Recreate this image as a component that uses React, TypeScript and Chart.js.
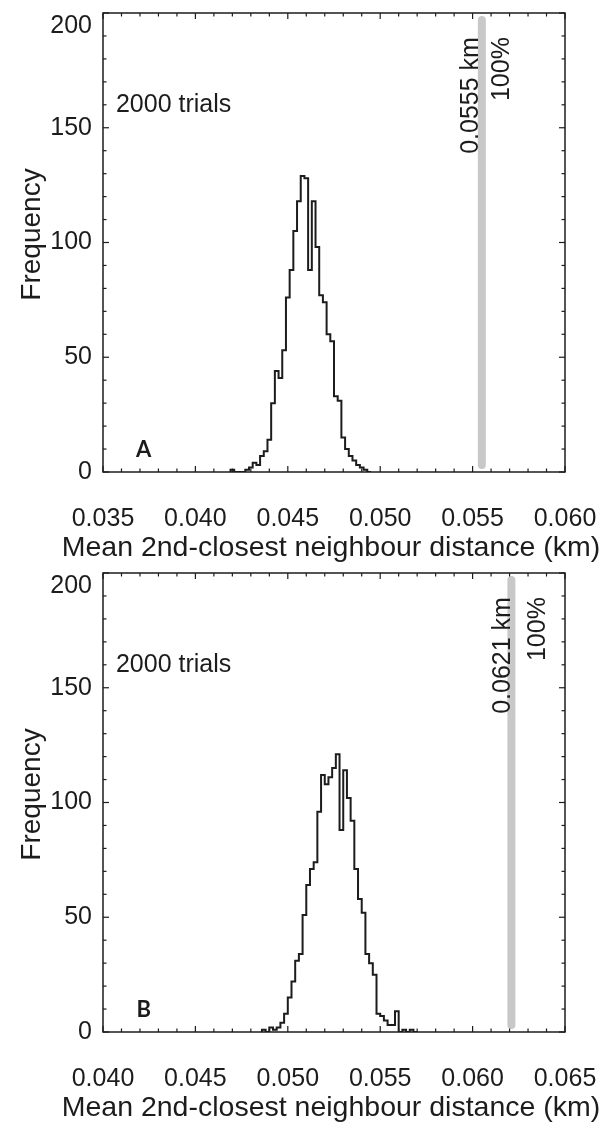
import React, { useEffect, useRef } from 'react';
import { Chart, registerables } from 'chart.js';

Chart.register(...registerables);

// ---------------- data ----------------
const BIN_WIDTH = 0.0002;
const yTicks = [0, 50, 100, 150, 200];
const trialsLabel = '2000 trials';
const percentLabel = '100%';
const xTitle = 'Mean 2nd-closest neighbour distance (km)';
const yTitle = 'Frequency';

// Panel A
const binStartsA = [
  0.0419, 0.0421, 0.0423, 0.0425, 0.0427, 0.0429, 0.0431, 0.0433, 0.0435, 0.0437,
  0.0439, 0.0441, 0.0443, 0.0445, 0.0447, 0.0449, 0.0451, 0.0453, 0.0455, 0.0457,
  0.0459, 0.0461, 0.0463, 0.0465, 0.0467, 0.0469, 0.0471, 0.0473, 0.0475, 0.0477,
  0.0479, 0.0481, 0.0483, 0.0485, 0.0487, 0.0489, 0.0491, 0.0493,
];
const countsA = [
  0, 1, 0, 0, 0, 1, 2, 4, 3, 7,
  9, 14, 30, 44, 41, 53, 76, 88, 105, 118,
  129, 128, 88, 118, 98, 77, 74, 60, 57, 33,
  31, 15, 10, 7, 5, 3, 2, 1,
];
const xTicksA = [0.035, 0.04, 0.045, 0.05, 0.055, 0.06];
const markerA = 0.0555;
const markerLabelA = '0.0555 km';
const letterA = 'A';

// Panel B
const binStartsB = [
  0.0486, 0.0488, 0.049, 0.0492, 0.0494, 0.0496, 0.0498, 0.05, 0.0502, 0.0504,
  0.0506, 0.0508, 0.051, 0.0512, 0.0514, 0.0516, 0.0518, 0.052, 0.0522, 0.0524,
  0.0526, 0.0528, 0.053, 0.0532, 0.0534, 0.0536, 0.0538, 0.054, 0.0542, 0.0544,
  0.0546, 0.0548, 0.055, 0.0552, 0.0554, 0.0556, 0.0558, 0.056, 0.0562, 0.0564,
  0.0566, 0.0568,
];
const countsB = [
  0, 1, 0, 2, 1, 2, 4, 8, 15, 22,
  31, 34, 51, 64, 71, 74, 96, 112, 108, 111,
  115, 121, 88, 114, 102, 92, 71, 58, 52, 34,
  30, 25, 8, 7, 5, 3, 3, 9, 0, 1,
  0, 1,
];
const xTicksB = [0.04, 0.045, 0.05, 0.055, 0.06, 0.065];
const markerB = 0.0621;
const markerLabelB = '0.0621 km';
const letterB = 'B';

const markerSpan = [3, 197];

// ---------------- styles ----------------
const INK = '#1c1c1c';
const GREY = '#c8c8c8';
const FONT = '"Liberation Sans", Arial, Helvetica, sans-serif';
const W = 603;
const H = 566;

type PanelCfg = {
  starts: number[];
  counts: number[];
  xTicks: number[];
  marker: number;
  markerLabel: string;
  letter: string;
  kmDx: number;
  pctDx: number;
};

const framePlugin = {
  id: 'frame',
  afterDraw(chart: any, _args: any, opts: any) {
    const { ctx, chartArea: a, scales } = chart;
    const x = scales.x;
    const y = scales.y;
    const cfg: PanelCfg = opts.cfg;
    ctx.save();
    ctx.strokeStyle = INK;
    ctx.lineWidth = 1.5;
    ctx.strokeRect(a.left, a.top, a.right - a.left, a.bottom - a.top);
    const line = (x1: number, y1: number, x2: number, y2: number) => {
      ctx.beginPath();
      ctx.moveTo(x1, y1);
      ctx.lineTo(x2, y2);
      ctx.stroke();
    };
    ctx.lineWidth = 1.2;
    const xMin = cfg.xTicks[0];
    for (let i = 0; i <= 25; i++) {
      const px = x.getPixelForValue(xMin + i * 0.001);
      const len = i % 5 === 0 ? 6 : 3.5;
      line(px, a.bottom, px, a.bottom - len);
      line(px, a.top, px, a.top + len);
    }
    for (let i = 0; i <= 20; i++) {
      const py = y.getPixelForValue(i * 10);
      const len = i % 5 === 0 ? 6 : 3.5;
      line(a.left, py, a.left + len, py);
      line(a.right, py, a.right - len, py);
    }

    ctx.fillStyle = INK;
    ctx.textBaseline = 'middle';

    // top y tick label, kept inside the frame height
    const topVal = yTicks[yTicks.length - 1];
    ctx.font = `25px ${FONT}`;
    ctx.textAlign = 'right';
    ctx.fillText(String(topVal), a.left - 11, y.getPixelForValue(topVal) + 13);

    // axis titles
    ctx.font = `28.5px ${FONT}`;
    ctx.textAlign = 'center';
    ctx.fillText(xTitle, (a.left + a.right) / 2 - 3, a.bottom + 76);
    ctx.save();
    ctx.translate(32, (a.top + a.bottom) / 2 - 8);
    ctx.rotate(-Math.PI / 2);
    ctx.font = `28px ${FONT}`;
    ctx.fillText(yTitle, 0, 0);
    ctx.restore();

    // trials text
    ctx.font = `25px ${FONT}`;
    ctx.textAlign = 'left';
    ctx.fillText(trialsLabel, x.getPixelForValue(xMin + 0.0007), y.getPixelForValue(160));

    // panel letter
    ctx.font = `bold 22px Lato, "Open Sans", sans-serif`;
    ctx.textAlign = 'center';
    ctx.fillText(cfg.letter, x.getPixelForValue(xMin + 0.0022), y.getPixelForValue(9.5));

    // rotated marker labels
    const mx = x.getPixelForValue(cfg.marker);
    const topY = y.getPixelForValue(189.5);
    ctx.font = `25px ${FONT}`;
    const rot = (text: string, px: number) => {
      ctx.save();
      ctx.translate(px, topY);
      ctx.rotate(-Math.PI / 2);
      ctx.textAlign = 'right';
      ctx.textBaseline = 'middle';
      ctx.fillText(text, 0, 0);
      ctx.restore();
    };
    rot(cfg.markerLabel, mx + cfg.kmDx);
    rot(percentLabel, mx + cfg.pctDx);
    ctx.restore();
  },
};

function Panel({ cfg, top }: { cfg: PanelCfg; top: number }) {
  const ref = useRef<HTMLCanvasElement>(null);
  useEffect(() => {
    const last = cfg.starts[cfg.starts.length - 1];
    const hist = [
      { x: cfg.starts[0], y: 0 },
      ...cfg.starts.map((s, i) => ({ x: s, y: cfg.counts[i] })),
      { x: last + BIN_WIDTH, y: 0 },
    ];
    const xMin = cfg.xTicks[0];
    const xMax = cfg.xTicks[cfg.xTicks.length - 1];
    const topVal = yTicks[yTicks.length - 1];
    const chart = new Chart(ref.current as HTMLCanvasElement, {
      type: 'line',
      data: {
        datasets: [
          {
            data: hist,
            stepped: 'after',
            borderColor: INK,
            borderWidth: 2,
            pointRadius: 0,
            fill: false,
            order: 1,
          } as any,
          {
            data: [
              { x: cfg.marker, y: markerSpan[0] },
              { x: cfg.marker, y: markerSpan[1] },
            ],
            borderColor: GREY,
            borderWidth: 8,
            borderCapStyle: 'round',
            pointRadius: 0,
            fill: false,
            order: 2,
          } as any,
        ],
      },
      options: {
        responsive: false,
        animation: false,
        devicePixelRatio: 1,
        layout: { padding: { top: 13, right: 38, left: 0, bottom: 0 } },
        plugins: {
          legend: { display: false },
          tooltip: { enabled: false },
          frame: { cfg },
        } as any,
        scales: {
          x: {
            type: 'linear',
            min: xMin,
            max: xMax,
            grid: { display: false, drawTicks: false },
            border: { display: false },
            ticks: {
              font: { family: FONT, size: 25 },
              color: INK,
              padding: 32,
              maxRotation: 0,
              autoSkip: false,
              callback: (v: any) => Number(v).toFixed(3),
            },
            afterBuildTicks: (s: any) => {
              s.ticks = cfg.xTicks.map((v) => ({ value: v }));
            },
            afterFit: (s: any) => {
              s.height = 94;
              s.paddingLeft = 0;
              s.paddingRight = 0;
            },
            title: { display: false },
          },
          y: {
            type: 'linear',
            min: 0,
            max: 200,
            grid: { display: false, drawTicks: false },
            border: { display: false },
            ticks: {
              font: { family: FONT, size: 25 },
              color: INK,
              padding: 11,
              autoSkip: false,
              callback: (v: any) => (v === topVal ? '' : String(v)),
            },
            afterBuildTicks: (s: any) => {
              s.ticks = yTicks.map((v) => ({ value: v }));
            },
            afterFit: (s: any) => {
              s.width = 103;
              s.paddingTop = 0;
              s.paddingBottom = 0;
            },
            title: { display: false },
          },
        },
      } as any,
      plugins: [framePlugin as any],
    });
    return () => chart.destroy();
  }, [cfg]);
  return (
    <canvas
      ref={ref}
      width={W}
      height={H}
      style={{ position: 'absolute', left: 0, top, width: W, height: H }}
    />
  );
}

const cfgA: PanelCfg = {
  starts: binStartsA,
  counts: countsA,
  xTicks: xTicksA,
  marker: markerA,
  markerLabel: markerLabelA,
  letter: letterA,
  kmDx: -11,
  pctDx: 20,
};

const cfgB: PanelCfg = {
  starts: binStartsB,
  counts: countsB,
  xTicks: xTicksB,
  marker: markerB,
  markerLabel: markerLabelB,
  letter: letterB,
  kmDx: -8,
  pctDx: 27,
};

export default function App() {
  return (
    <div
      style={{
        position: 'absolute',
        left: 0,
        top: 0,
        width: 603,
        height: 1126,
        background: '#fff',
        overflow: 'hidden',
      }}
    >
      <Panel cfg={cfgA} top={0} />
      <Panel cfg={cfgB} top={560} />
    </div>
  );
}
